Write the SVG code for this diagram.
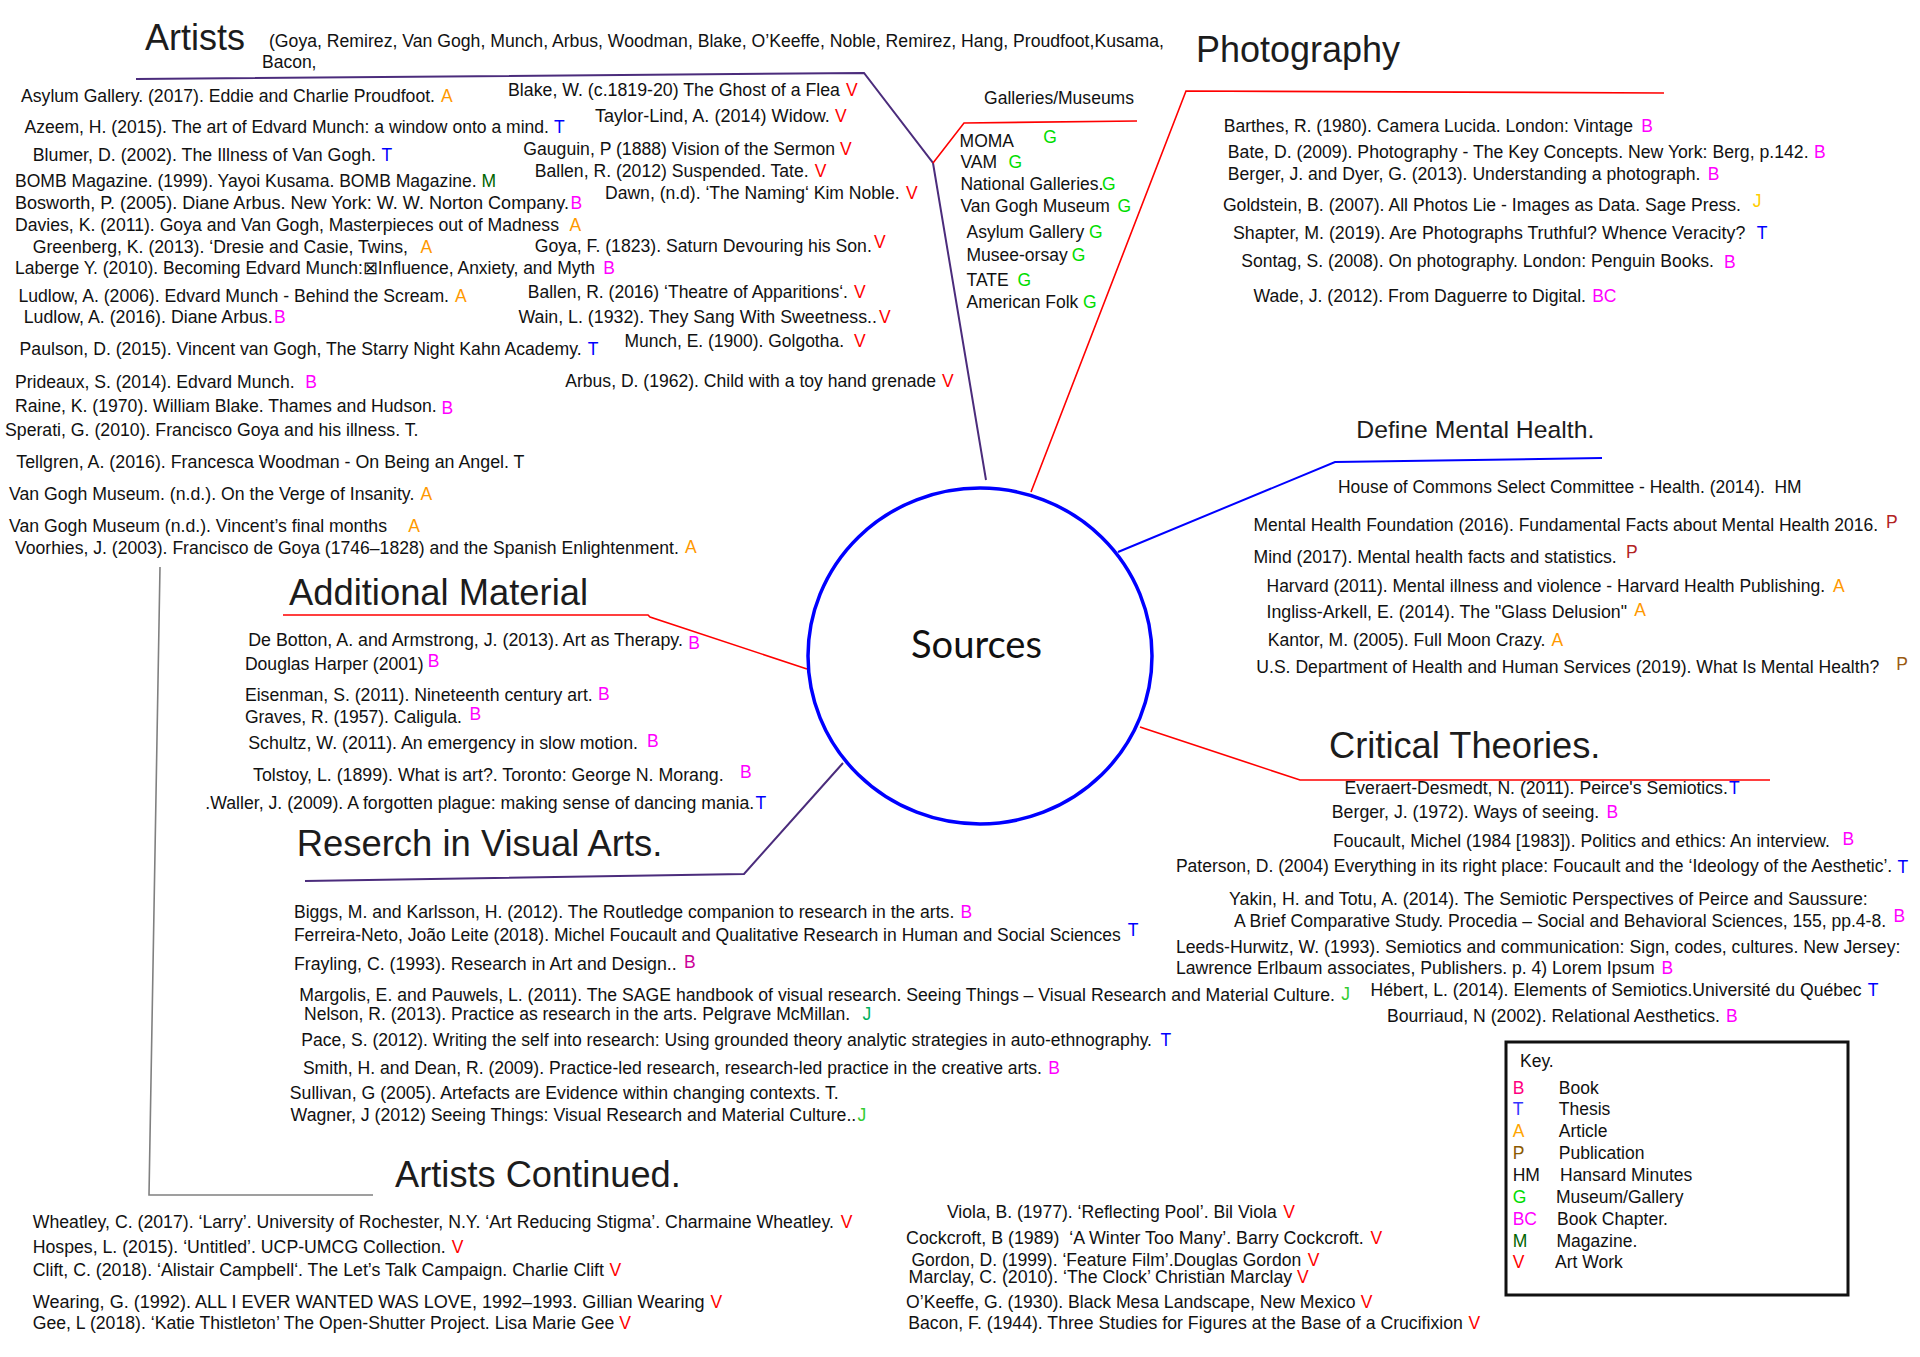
<svg xmlns="http://www.w3.org/2000/svg" width="1920" height="1357" viewBox="0 0 1920 1357">
<style>
text{font-family:"Liberation Sans",Arial,sans-serif;font-size:17.5px;fill:#111}
.h{font-size:36px;fill:#1c1c1c}
.hs{font-size:24.5px;fill:#1c1c1c}
.src{font-family:Lato,"Open Sans",sans-serif;font-size:39px;fill:#111}
.B{fill:#ff00ff}.T{fill:#0000ff}.A{fill:#ff9900}.P{fill:#b22222}.Pb{fill:#9a5a10}.G{fill:#00dd00}.M{fill:#006400}.V{fill:#ff0000}.J{fill:#ffcc00}.Jg{fill:#33cc33}.Jt{fill:#00b060}.Bd{fill:#cc0099}.Bk{fill:#ff0080}.Tk{fill:#3333ff}.Ak{fill:#ffa500}.Pk{fill:#8b5a00}
.c{fill:none;stroke-width:1.6}
.red{stroke:#ff0000}.pur{stroke:#4b2c7c;stroke-width:2}.blu{stroke:#0000ff;stroke-width:2}.gry{stroke:#808080;stroke-width:1.6}
</style>
<rect width="1920" height="1357" fill="#ffffff"/>
<g id="connectors">
<polyline class="c pur" points="136,79 864,73 933,163 986,480"/>
<polyline class="c red" points="933,163 964,123 1137,121"/>
<polyline class="c red" points="1031,492 1186,91 1664,93"/>
<polyline class="c blu" points="1118,552 1335,462 1602,458"/>
<polyline class="c red" points="1140,727 1300,780 1770,780"/>
<polyline class="c red" points="283,615 648,615 650,617 807,669"/>
<polyline class="c pur" points="305,881 744,874 843,763"/>
<polyline class="c gry" points="160,567 149,1195 373,1195"/>
</g>
<g id="sources">
<ellipse cx="980" cy="656" rx="172" ry="168" fill="#ffffff" stroke="#0000ff" stroke-width="3.5"/>
<text class="src" x="911" y="658" textLength="131" lengthAdjust="spacingAndGlyphs">Sources</text>
</g>
<g id="artists">
<text class="h" x="145" y="50" textLength="100" lengthAdjust="spacingAndGlyphs">Artists</text>
<text x="269" y="46.5" textLength="895" lengthAdjust="spacingAndGlyphs">(Goya, Remirez, Van Gogh, Munch, Arbus, Woodman, Blake, O’Keeffe, Noble, Remirez, Hang, Proudfoot,Kusama,</text>
<text x="262" y="68">Bacon,</text>
<text x="21" y="101.7" textLength="414" lengthAdjust="spacingAndGlyphs">Asylum Gallery. (2017). Eddie and Charlie Proudfoot.</text><text class="A" x="441" y="101.7">A</text>
<text x="24.5" y="133.3" textLength="524.5" lengthAdjust="spacingAndGlyphs">Azeem, H. (2015). The art of Edvard Munch: a window onto a mind.</text><text class="T" x="554" y="133.3">T</text>
<text x="32.7" y="161" textLength="343.3" lengthAdjust="spacingAndGlyphs">Blumer, D. (2002). The Illness of Van Gogh.</text><text class="T" x="381.6" y="161">T</text>
<text x="15" y="187.3" textLength="461.7" lengthAdjust="spacingAndGlyphs">BOMB Magazine. (1999). Yayoi Kusama. BOMB Magazine.</text><text class="M" x="481.6" y="187.3">M</text>
<text x="15" y="209" textLength="554" lengthAdjust="spacingAndGlyphs">Bosworth, P. (2005). Diane Arbus. New York: W. W. Norton Company.</text><text class="B" x="570.6" y="209">B</text>
<text x="15" y="230.7" textLength="544" lengthAdjust="spacingAndGlyphs">Davies, K. (2011). Goya and Van Gogh, Masterpieces out of Madness</text><text class="A" x="569.4" y="230.7">A</text>
<text x="32.7" y="253.3" textLength="375.3" lengthAdjust="spacingAndGlyphs">Greenberg, K. (2013). ‘Dresie and Casie, Twins,</text><text class="A" x="420.4" y="253.3">A</text>
<text x="15" y="274.3" textLength="580" lengthAdjust="spacingAndGlyphs">Laberge Y. (2010). Becoming Edvard Munch:⊠Influence, Anxiety, and Myth</text><text class="B" x="603.3" y="274.3">B</text>
<text x="18.4" y="301.7" textLength="430.6" lengthAdjust="spacingAndGlyphs">Ludlow, A. (2006). Edvard Munch - Behind the Scream.</text><text class="A" x="455" y="301.7">A</text>
<text x="23.7" y="322.7" textLength="249" lengthAdjust="spacingAndGlyphs">Ludlow, A. (2016). Diane Arbus.</text><text class="B" x="274" y="322.7">B</text>
<text x="19.6" y="355" textLength="562" lengthAdjust="spacingAndGlyphs">Paulson, D. (2015). Vincent van Gogh, The Starry Night Kahn Academy.</text><text class="T" x="587.8" y="355">T</text>
<text x="15" y="387.7" textLength="279.7" lengthAdjust="spacingAndGlyphs">Prideaux, S. (2014). Edvard Munch.</text><text class="B" x="305.3" y="387.7">B</text>
<text x="15" y="411.7" textLength="421.7" lengthAdjust="spacingAndGlyphs">Raine, K. (1970). William Blake. Thames and Hudson.</text><text class="B" x="441.6" y="414">B</text>
<text x="5" y="435.7" textLength="413.4" lengthAdjust="spacingAndGlyphs">Sperati, G. (2010). Francisco Goya and his illness. T.</text>
<text x="16.3" y="467.7" textLength="508.2" lengthAdjust="spacingAndGlyphs">Tellgren, A. (2016). Francesca Woodman - On Being an Angel. T</text>
<text x="9" y="500" textLength="405.3" lengthAdjust="spacingAndGlyphs">Van Gogh Museum. (n.d.). On the Verge of Insanity.</text><text class="A" x="420.4" y="500">A</text>
<text x="9" y="532.3" textLength="378" lengthAdjust="spacingAndGlyphs">Van Gogh Museum (n.d.). Vincent’s final months</text><text class="A" x="408.2" y="532.3">A</text>
<text x="15" y="554" textLength="663.8" lengthAdjust="spacingAndGlyphs">Voorhies, J. (2003). Francisco de Goya (1746–1828) and the Spanish Enlightenment.</text><text class="A" x="685" y="553">A</text>
<text x="508" y="96" textLength="332" lengthAdjust="spacingAndGlyphs">Blake, W. (c.1819-20) The Ghost of a Flea</text><text class="V" x="846" y="96">V</text>
<text x="595" y="121.7" textLength="234.8" lengthAdjust="spacingAndGlyphs">Taylor-Lind, A. (2014) Widow.</text><text class="V" x="835" y="121.7">V</text>
<text x="523.3" y="155" textLength="311.7" lengthAdjust="spacingAndGlyphs">Gauguin, P (1888) Vision of the Sermon</text><text class="V" x="840" y="155">V</text>
<text x="534.7" y="176.7" textLength="273.9" lengthAdjust="spacingAndGlyphs">Ballen, R. (2012) Suspended. Tate.</text><text class="V" x="814.7" y="176.7">V</text>
<text x="605" y="199" textLength="294.6" lengthAdjust="spacingAndGlyphs">Dawn, (n.d). ‘The Naming‘ Kim Noble.</text><text class="V" x="906" y="199">V</text>
<text x="534.7" y="252.3" textLength="337.1" lengthAdjust="spacingAndGlyphs">Goya, F. (1823). Saturn Devouring his Son.</text><text class="V" x="874" y="248">V</text>
<text x="527.8" y="298.3" textLength="320.2" lengthAdjust="spacingAndGlyphs">Ballen, R. (2016) ‘Theatre of Apparitions‘.</text><text class="V" x="854" y="298.3">V</text>
<text x="518.4" y="322.7" textLength="358.6" lengthAdjust="spacingAndGlyphs">Wain, L. (1932). They Sang With Sweetness..</text><text class="V" x="879" y="322.7">V</text>
<text x="624.5" y="346.5" textLength="219.5" lengthAdjust="spacingAndGlyphs">Munch, E. (1900). Golgotha.</text><text class="V" x="854" y="346.5">V</text>
<text x="565.3" y="386.7" textLength="370.7" lengthAdjust="spacingAndGlyphs">Arbus, D. (1962). Child with a toy hand grenade</text><text class="V" x="942" y="386.7">V</text>
</g>
<g id="galleries">
<text x="984" y="104" textLength="150" lengthAdjust="spacingAndGlyphs">Galleries/Museums</text>
<text x="959.6" y="146.7">MOMA</text><text class="G" x="1043.3" y="143">G</text>
<text x="960.4" y="168.3">VAM</text><text class="G" x="1008.6" y="168.3">G</text>
<text x="960.4" y="190">National Galleries.</text><text class="G" x="1102" y="190">G</text>
<text x="960.4" y="212.3">Van Gogh Museum</text><text class="G" x="1117.6" y="212.3">G</text>
<text x="966.5" y="238.3">Asylum Gallery</text><text class="G" x="1089" y="238.3">G</text>
<text x="966.5" y="260.7">Musee-orsay</text><text class="G" x="1071.8" y="260.7">G</text>
<text x="966.5" y="286">TATE</text><text class="G" x="1017.6" y="286">G</text>
<text x="966.5" y="308.3">American Folk</text><text class="G" x="1082.9" y="308.3">G</text>
</g>
<g id="photography">
<text class="h" x="1196" y="62.3" textLength="204" lengthAdjust="spacingAndGlyphs">Photography</text>
<text x="1223.7" y="131.7" textLength="409.3" lengthAdjust="spacingAndGlyphs">Barthes, R. (1980). Camera Lucida. London: Vintage</text><text class="B" x="1641.2" y="131.7">B</text>
<text x="1227.8" y="158.3" textLength="580.8" lengthAdjust="spacingAndGlyphs">Bate, D. (2009). Photography - The Key Concepts. New York: Berg, p.142.</text><text class="B" x="1813.9" y="158.3">B</text>
<text x="1227.8" y="180" textLength="472.6" lengthAdjust="spacingAndGlyphs">Berger, J. and Dyer, G. (2013). Understanding a photograph.</text><text class="B" x="1707.8" y="180">B</text>
<text x="1222.9" y="210.7" textLength="518.1" lengthAdjust="spacingAndGlyphs">Goldstein, B. (2007). All Photos Lie - Images as Data. Sage Press.</text><text class="J" x="1752.7" y="206.7">J</text>
<text x="1233" y="239" textLength="512.3" lengthAdjust="spacingAndGlyphs">Shapter, M. (2019). Are Photographs Truthful? Whence Veracity?</text><text class="T" x="1756.7" y="239">T</text>
<text x="1241.2" y="266.7" textLength="472.7" lengthAdjust="spacingAndGlyphs">Sontag, S. (2008). On photography. London: Penguin Books.</text><text class="B" x="1724" y="268.3">B</text>
<text x="1253.5" y="301.7" textLength="332.5" lengthAdjust="spacingAndGlyphs">Wade, J. (2012). From Daguerre to Digital.</text><text class="B" x="1592.2" y="301.7">BC</text>
</g>
<g id="define-mental-health">
<text class="hs" x="1356.3" y="438.3" textLength="238" lengthAdjust="spacingAndGlyphs">Define Mental Health.</text>
<text x="1338" y="493.3" textLength="463.6" lengthAdjust="spacingAndGlyphs" xml:space="preserve">House of Commons Select Committee - Health. (2014).  HM</text>
<text x="1253.5" y="530.7" textLength="624.5" lengthAdjust="spacingAndGlyphs">Mental Health Foundation (2016). Fundamental Facts about Mental Health 2016.</text><text class="P" x="1886" y="528.3">P</text>
<text x="1253.5" y="563.3" textLength="363.2" lengthAdjust="spacingAndGlyphs">Mind (2017). Mental health facts and statistics.</text><text class="P" x="1626" y="558.3">P</text>
<text x="1266.5" y="591.7" textLength="558.5" lengthAdjust="spacingAndGlyphs">Harvard (2011). Mental illness and violence - Harvard Health Publishing.</text><text class="A" x="1833" y="591.7">A</text>
<text x="1266.5" y="618.3" textLength="360.5" lengthAdjust="spacingAndGlyphs">Ingliss-Arkell, E. (2014). The "Glass Delusion"</text><text class="A" x="1634.3" y="616">A</text>
<text x="1267.8" y="646" textLength="277.5" lengthAdjust="spacingAndGlyphs">Kantor, M. (2005). Full Moon Crazy.</text><text class="A" x="1551.4" y="646">A</text>
<text x="1256.3" y="672.7" textLength="622.9" lengthAdjust="spacingAndGlyphs">U.S. Department of Health and Human Services (2019). What Is Mental Health?</text><text class="Pb" x="1896.3" y="670">P</text>
</g>
<g id="critical-theories">
<text class="h" x="1329" y="758.3" textLength="271.4" lengthAdjust="spacingAndGlyphs">Critical Theories.</text>
<text x="1344.5" y="794" textLength="383.3" lengthAdjust="spacingAndGlyphs">Everaert-Desmedt, N. (2011). Peirce's Semiotics.</text><text class="T" x="1729" y="794">T</text>
<text x="1331.8" y="818.3" textLength="267.4" lengthAdjust="spacingAndGlyphs">Berger, J. (1972). Ways of seeing.</text><text class="B" x="1606.5" y="818.3">B</text>
<text x="1333" y="846.7" textLength="496.8" lengthAdjust="spacingAndGlyphs">Foucault, Michel (1984 [1983]). Politics and ethics: An interview.</text><text class="B" x="1842.4" y="845">B</text>
<text x="1175.9" y="871.7" textLength="716.3" lengthAdjust="spacingAndGlyphs">Paterson, D. (2004) Everything in its right place: Foucault and the ‘Ideology of the Aesthetic’.</text><text class="T" x="1897.6" y="873.3">T</text>
<text x="1229" y="905" textLength="638.8" lengthAdjust="spacingAndGlyphs">Yakin, H. and Totu, A. (2014). The Semiotic Perspectives of Peirce and Saussure:</text>
<text x="1233.9" y="926.7" textLength="652.2" lengthAdjust="spacingAndGlyphs">A Brief Comparative Study. Procedia – Social and Behavioral Sciences, 155, pp.4-8.</text><text class="B" x="1893.5" y="921.7">B</text>
<text x="1175.9" y="952.7" textLength="724.5" lengthAdjust="spacingAndGlyphs">Leeds-Hurwitz, W. (1993). Semiotics and communication: Sign, codes, cultures. New Jersey:</text>
<text x="1175.9" y="974.3" textLength="478.8" lengthAdjust="spacingAndGlyphs">Lawrence Erlbaum associates, Publishers. p. 4) Lorem Ipsum</text><text class="B" x="1661.6" y="974.3">B</text>
<text x="1370.6" y="996" textLength="491" lengthAdjust="spacingAndGlyphs">Hébert, L. (2014). Elements of Semiotics.Université du Québec</text><text class="T" x="1867.8" y="996">T</text>
<text x="1386.9" y="1021.7" textLength="333.1" lengthAdjust="spacingAndGlyphs">Bourriaud, N (2002). Relational Aesthetics.</text><text class="B" x="1726.1" y="1021.7">B</text>
</g>
<g id="additional-material">
<text class="h" x="289" y="605" textLength="299" lengthAdjust="spacingAndGlyphs">Additional Material</text>
<text x="248.2" y="646" textLength="434.7" lengthAdjust="spacingAndGlyphs">De Botton, A. and Armstrong, J. (2013). Art as Therapy.</text><text class="B" x="688.2" y="649.3">B</text>
<text x="244.9" y="670" textLength="178.8" lengthAdjust="spacingAndGlyphs">Douglas Harper (2001)</text><text class="B" x="427.8" y="666.7">B</text>
<text x="244.9" y="700.7" textLength="347.8" lengthAdjust="spacingAndGlyphs">Eisenman, S. (2011). Nineteenth century art.</text><text class="B" x="598" y="700">B</text>
<text x="244.9" y="723.3" textLength="217.1" lengthAdjust="spacingAndGlyphs">Graves, R. (1957). Caligula.</text><text class="B" x="469.4" y="720">B</text>
<text x="248.2" y="749.3" textLength="389.8" lengthAdjust="spacingAndGlyphs">Schultz, W. (2011). An emergency in slow motion.</text><text class="B" x="647" y="746.7">B</text>
<text x="253" y="780.7" textLength="470.7" lengthAdjust="spacingAndGlyphs">Tolstoy, L. (1899). What is art?. Toronto: George N. Morang.</text><text class="B" x="740" y="778.3">B</text>
<text x="205.3" y="809" textLength="549" lengthAdjust="spacingAndGlyphs">.Waller, J. (2009). A forgotten plague: making sense of dancing mania.</text><text class="T" x="755.5" y="809">T</text>
</g>
<g id="research-visual-arts">
<text class="h" x="296.7" y="856" textLength="365.7" lengthAdjust="spacingAndGlyphs">Reserch in Visual Arts.</text>
<text x="293.9" y="918.3" textLength="660.4" lengthAdjust="spacingAndGlyphs">Biggs, M. and Karlsson, H. (2012). The Routledge companion to research in the arts.</text><text class="B" x="960.4" y="918.3">B</text>
<text x="293.9" y="941" textLength="826.9" lengthAdjust="spacingAndGlyphs">Ferreira-Neto, João Leite (2018). Michel Foucault and Qualitative Research in Human and Social Sciences</text><text class="T" x="1127.8" y="936">T</text>
<text x="293.9" y="970" textLength="382.8" lengthAdjust="spacingAndGlyphs">Frayling, C. (1993). Research in Art and Design..</text><text class="Bd" x="684" y="968.3">B</text>
<text x="299.2" y="1000.7" textLength="1035.8" lengthAdjust="spacingAndGlyphs">Margolis, E. and Pauwels, L. (2011). The SAGE handbook of visual research. Seeing Things – Visual Research and Material Culture.</text><text class="Jg" x="1341.2" y="1000">J</text>
<text x="304" y="1020" textLength="546.2" lengthAdjust="spacingAndGlyphs">Nelson, R. (2013). Practice as research in the arts. Pelgrave McMillan.</text><text class="Jt" x="862.4" y="1020">J</text>
<text x="301.2" y="1045.7" textLength="850.8" lengthAdjust="spacingAndGlyphs">Pace, S. (2012). Writing the self into research: Using grounded theory analytic strategies in auto-ethnography.</text><text class="T" x="1160.4" y="1045.7">T</text>
<text x="302.9" y="1074.3" textLength="739.1" lengthAdjust="spacingAndGlyphs">Smith, H. and Dean, R. (2009). Practice-led research, research-led practice in the creative arts.</text><text class="B" x="1048.2" y="1074.3">B</text>
<text x="289.8" y="1099.3" textLength="549" lengthAdjust="spacingAndGlyphs">Sullivan, G (2005). Artefacts are Evidence within changing contexts. T.</text>
<text x="290.6" y="1120.7" textLength="565.7" lengthAdjust="spacingAndGlyphs">Wagner, J (2012) Seeing Things: Visual Research and Material Culture..</text><text class="Jg" x="857.6" y="1120.7">J</text>
</g>
<g id="artists-continued">
<text class="h" x="395.1" y="1186.7" textLength="285.7" lengthAdjust="spacingAndGlyphs">Artists Continued.</text>
<text x="32.7" y="1227.7" textLength="801.2" lengthAdjust="spacingAndGlyphs">Wheatley, C. (2017). ‘Larry’. University of Rochester, N.Y. ‘Art Reducing Stigma’. Charmaine Wheatley.</text><text class="V" x="840.8" y="1227.7">V</text>
<text x="32.7" y="1253.3" textLength="413" lengthAdjust="spacingAndGlyphs">Hospes, L. (2015). ‘Untitled’. UCP-UMCG Collection.</text><text class="V" x="451.8" y="1253.3">V</text>
<text x="32.7" y="1275.7" textLength="571.3" lengthAdjust="spacingAndGlyphs">Clift, C. (2018). ‘Alistair Campbell‘. The Let’s Talk Campaign. Charlie Clift</text><text class="V" x="609.4" y="1275.7">V</text>
<text x="32.7" y="1307.7" textLength="671.8" lengthAdjust="spacingAndGlyphs">Wearing, G. (1992). ALL I EVER WANTED WAS LOVE, 1992–1993. Gillian Wearing</text><text class="V" x="710.6" y="1307.7">V</text>
<text x="32.7" y="1329" textLength="581.6" lengthAdjust="spacingAndGlyphs">Gee, L (2018). ‘Katie Thistleton’ The Open-Shutter Project. Lisa Marie Gee</text><text class="V" x="619.2" y="1329">V</text>
<text x="946.9" y="1217.7" textLength="329.8" lengthAdjust="spacingAndGlyphs">Viola, B. (1977). ‘Reflecting Pool’. Bil Viola</text><text class="V" x="1283.3" y="1217.7">V</text>
<text x="906.1" y="1243.7" textLength="457.6" lengthAdjust="spacingAndGlyphs" xml:space="preserve">Cockcroft, B (1989)  ‘A Winter Too Many’. Barry Cockcroft.</text><text class="V" x="1370.6" y="1243.7">V</text>
<text x="911.4" y="1265.7" textLength="389.8" lengthAdjust="spacingAndGlyphs">Gordon, D. (1999). ‘Feature Film’.Douglas Gordon</text><text class="V" x="1307.8" y="1265.7">V</text>
<text x="908.6" y="1283.3" textLength="383.6" lengthAdjust="spacingAndGlyphs">Marclay, C. (2010). ‘The Clock’ Christian Marclay</text><text class="V" x="1297" y="1283.3">V</text>
<text x="906.1" y="1308.3" textLength="449.4" lengthAdjust="spacingAndGlyphs">O’Keeffe, G. (1930). Black Mesa Landscape, New Mexico</text><text class="V" x="1360.8" y="1308.3">V</text>
<text x="908.2" y="1329" textLength="554.7" lengthAdjust="spacingAndGlyphs">Bacon, F. (1944). Three Studies for Figures at the Base of a Crucifixion</text><text class="V" x="1468.6" y="1329">V</text>
</g>
<g id="key">
<rect x="1506" y="1042" width="342" height="253" fill="none" stroke="#111" stroke-width="3"/>
<text x="1520" y="1066.7">Key.</text>
<text class="Bk" x="1512.7" y="1094">B</text><text x="1558.8" y="1094">Book</text>
<text class="Tk" x="1512.7" y="1115.3">T</text><text x="1558.8" y="1115.3">Thesis</text>
<text class="Ak" x="1512.7" y="1137.3">A</text><text x="1558.8" y="1137.3">Article</text>
<text class="Pk" x="1512.7" y="1159">P</text><text x="1558.8" y="1159">Publication</text>
<text x="1512.7" y="1181">HM</text><text x="1560" y="1181">Hansard Minutes</text>
<text class="G" x="1512.7" y="1202.7">G</text><text x="1556" y="1202.7">Museum/Gallery</text>
<text class="B" x="1512.7" y="1225">BC</text><text x="1557" y="1225">Book Chapter.</text>
<text class="M" x="1512.7" y="1246.7">M</text><text x="1556.5" y="1246.7">Magazine.</text>
<text class="V" x="1512.7" y="1268.3">V</text><text x="1555" y="1268.3">Art Work</text>
</g>
</svg>
